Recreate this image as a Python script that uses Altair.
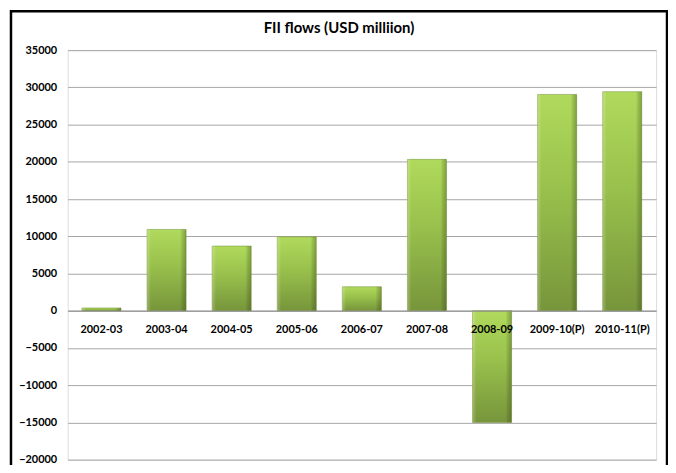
import altair as alt
import pandas as pd

years = ["2002-03", "2003-04", "2004-05", "2005-06", "2006-07",
         "2007-08", "2008-09", "2009-10(P)", "2010-11(P)"]
flows = [377, 10918, 8686, 9926, 3225, 20328, -15017, 29048, 29422]
y_ticks = [-20000, -15000, -10000, -5000, 0, 5000, 10000, 15000, 20000, 25000, 30000, 35000]
title_text = "FII flows (USD milliion)"

df = pd.DataFrame({"year": years, "flow": flows})

W, H = 592, 412
ymin, ymax = y_ticks[0], y_ticks[-1]
zero_offset = -H * (0 - ymin) / (ymax - ymin)

FONT = "Lato"

grad = alt.Gradient(
    gradient="linear",
    stops=[alt.GradientStop(color="#b0da5c", offset=0),
           alt.GradientStop(color="#98c04c", offset=0.45),
           alt.GradientStop(color="#77953b", offset=1)],
    x1=0, x2=0, y1=0, y2=1,
)
edge = alt.Gradient(
    gradient="linear",
    stops=[alt.GradientStop(color="rgba(255,255,230,0.25)", offset=0),
           alt.GradientStop(color="rgba(255,255,255,0)", offset=0.1),
           alt.GradientStop(color="rgba(0,0,0,0)", offset=0.85),
           alt.GradientStop(color="rgba(50,70,15,0.35)", offset=1)],
    x1=0, x2=1, y1=0, y2=0,
)

xenc = alt.X("year:N", sort=years, title=None,
             scale=alt.Scale(paddingInner=0.4, paddingOuter=0.22),
             axis=alt.Axis(orient="bottom", offset=zero_offset, labelAngle=0,
                           labelFont=FONT, labelFontWeight="bold", labelFontSize=11,
                           labelColor="black", labelPadding=13, ticks=False,
                           domainColor="#8c8c8c", domainWidth=1, zindex=1,
                           grid=False))
yenc = alt.Y("flow:Q", title=None,
             scale=alt.Scale(domain=[ymin, ymax], nice=False, zero=True),
             axis=alt.Axis(values=y_ticks, format="d", labelFont=FONT,
                           labelFontWeight="bold", labelFontSize=11,
                           labelColor="black", labelPadding=11, ticks=False,
                           domain=False, gridColor="#a6a6a6", gridWidth=1))

bars = alt.Chart(df).mark_bar(fill=grad, stroke="#6f8c36", strokeWidth=0.5).encode(
    x=xenc, y=yenc)
shade = alt.Chart(df).mark_bar(fill=edge).encode(x=xenc, y=yenc)

base = alt.Chart(pd.DataFrame({"t": [title_text]}))

border = base.mark_rect(fill=None, stroke="black", strokeWidth=2.5).encode(
    x=alt.value(-57), x2=alt.value(603),
    y=alt.value(-39), y2=alt.value(440),
)

title = base.mark_text(font=FONT, fontSize=15, fontWeight="bold", color="black",
                       align="center", baseline="middle").encode(
    text="t:N", x=alt.value(W / 2 - 23), y=alt.value(-22),
)

chart = alt.layer(bars, shade, border, title).properties(
    width=W, height=H,
    autosize=alt.AutoSizeParams(type="none"),
    padding={"left": 60, "top": 41, "right": 12, "bottom": 4},
).configure_view(stroke=None).configure(background="white")

chart.save("out.html", embed_options={"renderer": "svg", "actions": False})
